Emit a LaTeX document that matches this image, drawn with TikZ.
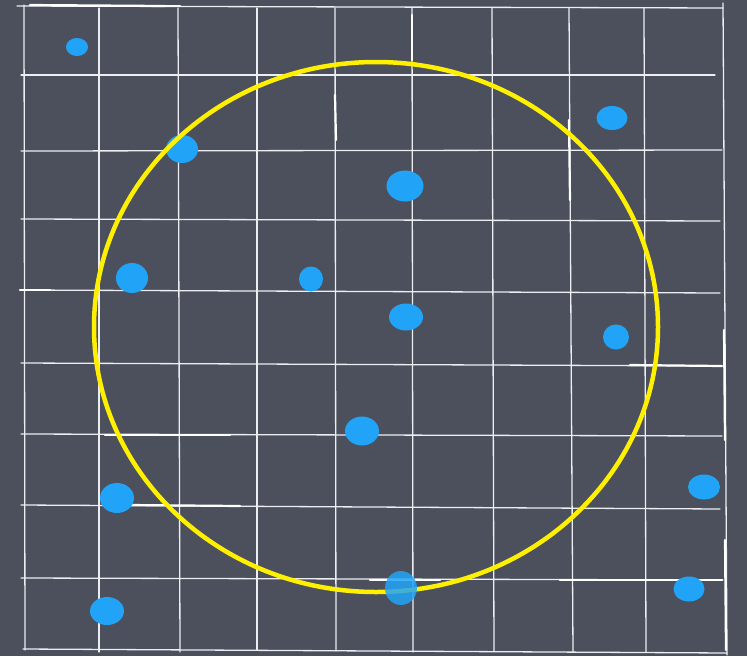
\documentclass[tikz,border=0pt]{standalone}
\usepackage{tikz}
\definecolor{slate}{RGB}{75,80,92}
\definecolor{dotblue}{RGB}{33,164,248}
\definecolor{ringyellow}{RGB}{255,240,0}
\definecolor{chalk}{RGB}{236,238,242}
\tikzset{
  gridline/.style={draw=chalk, line width=1.3pt, line cap=round},
  thickline/.style={draw=white, line width=2.2pt, line cap=round},
  dot/.style={fill=dotblue},
  ring/.style={draw=ringyellow, line width=4.5pt}
}
\begin{document}
\begin{tikzpicture}[x=1pt,y=-1pt]
\fill[slate] (0,0) rectangle (747,656);
\useasboundingbox (0,0) rectangle (747,656);
% vertical lines
\draw[gridline] (24,5) -- (25,650);
\draw[gridline] (99,8) -- (99,652);
\draw[gridline] (178,8) -- (180,652);
\draw[gridline] (257,8) -- (257,650);
\draw[gridline] (335,8) -- (336,651);
\draw[gridline] (412,8) -- (413,652);
\draw[gridline] (492,8) -- (494,651);
\draw[gridline] (569,8) -- (573,652);
\draw[gridline] (644,8) -- (646,652);
\draw[gridline] (723,3) -- (727,655);
% horizontal lines
\draw[gridline] (17,6) -- (723,8);
\draw[gridline] (21,75) -- (715,75);
\draw[gridline] (21,151) -- (722,150);
\draw[gridline] (21,219) -- (720,221);
\draw[gridline] (21,290) -- (720,293);
\draw[gridline] (21,363) -- (722,366);
\draw[gridline] (21,434) -- (722,436);
\draw[gridline] (21,505) -- (720,509);
\draw[gridline] (21,578) -- (723,580);
\draw[gridline] (23,649) -- (727,653);
% chalky thicker strokes
\draw[thickline] (30,5) -- (165,6);
\draw[thickline] (80,6) -- (180,6);
\draw[thickline] (130,505) -- (240,506);
\draw[thickline] (370,580) -- (440,580);
\draw[thickline] (560,580) -- (722,580);
\draw[thickline] (20,290) -- (50,290);
\draw[thickline] (105,435) -- (230,435);
\draw[thickline] (630,365) -- (722,366);
\draw[thickline] (335,95) -- (336,140);
\draw[thickline] (412,15) -- (412,60);
\draw[thickline] (569,120) -- (570,200);
\draw[thickline] (724,330) -- (725,440);
\draw[thickline] (725,540) -- (726,650);
% dots
\fill[dot] (77,47) ellipse [x radius=11, y radius=9];
\fill[dot] (182,149) ellipse [x radius=16, y radius=14];
\fill[dot] (612,118) ellipse [x radius=15.5, y radius=12];
\fill[dot] (405,186) ellipse [x radius=18.5, y radius=15.5];
\fill[dot] (132,278) ellipse [x radius=16, y radius=15];
\fill[dot] (311,279) ellipse [x radius=12, y radius=12.5];
\fill[dot] (406,317) ellipse [x radius=17, y radius=13.5];
\fill[dot] (616,337) ellipse [x radius=13, y radius=12.5];
\fill[dot] (362,431) ellipse [x radius=17, y radius=14.5];
\fill[dot] (117,498) ellipse [x radius=17, y radius=15];
\fill[dot] (107,611) ellipse [x radius=17, y radius=14];
\fill[dot] (704,487) ellipse [x radius=16, y radius=12.5];
\fill[dot] (689,589) ellipse [x radius=15.5, y radius=12.5];
% ring
\draw[ring] (376,327) ellipse [x radius=282, y radius=265];
\fill[dot, opacity=0.85] (401,588) ellipse [x radius=16, y radius=17];
\end{tikzpicture}
\end{document}
